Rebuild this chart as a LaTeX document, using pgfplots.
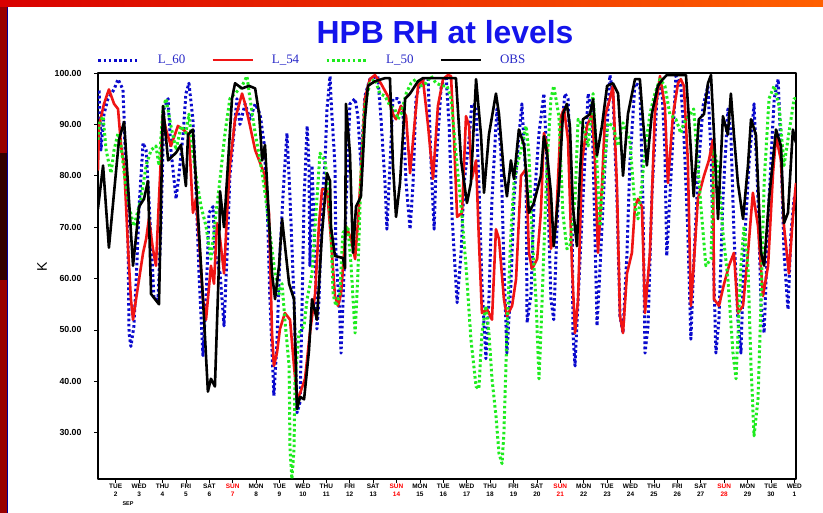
\documentclass[border=0pt]{standalone}
\usepackage{pgfplots}
\pgfplotsset{compat=1.18}
\usepackage{fontspec}
\setmainfont{Liberation Sans}
\newfontfamily\serifleg{Liberation Serif}
\definecolor{l60}{RGB}{10,10,205}
\definecolor{l54}{RGB}{240,20,20}
\definecolor{l50}{RGB}{30,235,30}
\definecolor{ttl}{RGB}{20,20,235}
\definecolor{legtxt}{RGB}{40,40,200}
\definecolor{bgred}{RGB}{200,25,25}

\pgfplotstableread{
x y
1.24 95
1.29 96.8
1.37 85
1.50 92
1.67 95
1.93 96.8
2.10 98.8
2.31 96.8
2.36 91
2.53 66.3
2.57 49.4
2.65 46.8
2.78 50.8
2.87 59
3.00 74
3.17 86.4
3.30 85
3.42 75.5
3.64 56
3.81 56
3.94 70.8
4.06 93
4.24 95
4.36 85
4.58 75.5
4.71 80.5
4.88 88
5.00 96
5.13 98
5.30 91
5.43 77.4
5.56 61
5.73 45
5.86 56
5.99 72.8
6.16 74
6.24 65
6.46 61
6.63 50.8
6.76 65
6.88 80
7.05 88.3
7.18 95
7.31 90
7.53 94
7.74 91
7.96 94
8.17 92
8.34 86.4
8.47 75.5
8.59 56
8.76 37.2
8.89 47.5
9.02 65
9.19 79.4
9.32 88.3
9.45 75.5
9.62 56
9.75 33.9
9.88 36
9.97 56
10.05 75.5
10.18 89.7
10.26 82
10.30 62.5
10.39 82
10.52 65
10.60 50.2
10.69 56
10.82 75.5
10.94 82
11.03 93
11.16 99.4
11.20 95
11.37 82
11.41 65
11.58 52.7
11.63 45.5
11.71 54.7
11.84 73.5
12.01 94
12.23 95
12.35 91.6
12.48 82
12.65 95.5
12.86 98.8
13.20 99.4
13.33 91.6
13.51 78.6
13.59 69.6
13.72 82
13.85 95
14.06 95
14.28 92
14.41 78.6
14.58 69.6
14.71 78.6
14.83 95
15.05 98.8
15.35 98.8
15.48 82
15.61 69.6
15.69 82
15.91 97.5
16.12 99.4
16.25 89.7
16.38 71.6
16.59 55.3
16.76 65
16.89 78.6
17.10 87
17.22 94
17.40 93.6
17.52 78.6
17.65 59
17.82 44.4
17.95 56
18.08 75.5
18.29 93
18.46 85
18.59 62.5
18.72 45.5
18.89 59
19.02 75.5
19.23 87.7
19.36 94
19.54 78.6
19.58 51.4
19.75 57
19.87 74
20.09 88.3
20.30 96
20.43 82
20.60 56
20.72 52
20.85 68.9
21.03 88.3
21.20 96
21.33 95
21.50 75.5
21.54 49.4
21.63 43
21.76 56
21.97 75.5
22.19 96
22.36 91.6
22.48 69
22.57 50.8
22.70 62.5
22.91 82
23.12 99.6
23.25 96
23.42 75.5
23.55 52.7
23.68 49.4
23.85 65
23.97 82
24.19 98
24.40 97.5
24.53 75.5
24.62 45.5
24.75 50.8
24.91 75.5
25.13 95
25.34 97.5
25.47 85
25.55 64.4
25.68 75.5
25.94 99.4
26.15 97.5
26.28 88.3
26.45 69
26.58 48.2
26.70 62.5
26.88 80
27.10 93.6
27.31 97.5
27.44 84.4
27.57 59
27.65 45.5
27.78 52
27.95 75.5
28.16 93
28.29 88.3
28.42 69
28.59 52
28.72 45.5
28.85 65
29.06 82
29.28 94
29.45 75.5
29.58 54.7
29.71 49.4
29.92 75.5
30.14 95
30.31 98.8
30.43 85
30.56 65
30.73 54
30.86 69
30.99 75.5
31.07 76.7
}\tabLsixty

\pgfplotstableread{
x y
1.24 81
1.29 89.7
1.50 94
1.71 96.8
1.93 94
2.10 93
2.23 85.8
2.36 82
2.53 65.8
2.65 56
2.74 52
2.87 56
3.17 65
3.30 67.7
3.42 71.6
3.59 65.8
3.72 62.5
3.85 75.5
4.02 92
4.15 89
4.36 85.8
4.66 89.7
4.88 89
5.13 88
5.30 72.8
5.43 75.5
5.56 67.7
5.73 56
5.86 52
6.07 62.5
6.20 59
6.33 70.8
6.46 67.7
6.63 61
6.76 72.8
6.88 82
7.10 91
7.40 96
7.53 94
7.74 89.7
7.96 85
8.34 80.5
8.55 72.8
8.68 49.4
8.76 43
8.89 45.5
9.02 50.2
9.23 53.3
9.45 52
9.62 43
9.75 36.6
9.88 37.7
10.09 40.5
10.30 49.4
10.52 57
10.69 70.8
10.82 77.4
11.03 77.4
11.20 67.7
11.37 56.6
11.50 54.7
11.63 57
11.84 70.2
12.06 67.7
12.23 63.8
12.35 70.8
12.48 80.5
12.65 95
12.86 98.8
13.08 99.6
13.33 98
13.63 95.5
13.85 92
13.98 91
14.19 93.6
14.41 91.6
14.58 80.5
14.71 87
14.92 97.5
15.13 98.8
15.35 89.7
15.56 79.4
15.77 93.6
15.99 98.8
16.20 99.6
16.33 99.4
16.46 87
16.59 72
16.80 72.8
16.97 91.6
17.10 89.7
17.22 79.4
17.40 83
17.52 67.7
17.65 53.3
17.87 54
18.08 52
18.25 69.6
18.38 67.7
18.59 56
18.72 52.7
18.94 54.7
19.11 59.9
19.32 80
19.54 81.3
19.66 65
19.79 61.9
20.01 63.8
20.17 72.8
20.30 88.3
20.43 85.8
20.60 65.8
20.81 70.2
21.03 91.6
21.16 93
21.33 87
21.50 62.5
21.63 49.4
21.76 56
21.93 83
22.14 89.7
22.36 92
22.48 83
22.61 65
22.78 78
22.91 91.6
23.12 95
23.25 97.5
23.42 78
23.55 52.7
23.68 49.4
23.85 61
24.06 65
24.19 74
24.32 75.5
24.49 74
24.62 53.3
24.83 65
25.04 92
25.26 99.4
25.47 93.6
25.60 78.6
25.81 91.6
26.03 98
26.15 98.8
26.28 97.5
26.45 83
26.58 54.7
26.70 62.5
26.88 75.5
27.14 80
27.35 83
27.52 87
27.57 56
27.78 54.7
28.00 59
28.21 62.5
28.42 65
28.59 53.3
28.81 54.7
29.02 65
29.23 76.7
29.45 70.2
29.66 56.6
29.88 62.5
30.09 80.5
30.22 87.7
30.43 83
30.56 70.2
30.77 61
30.94 72
31.07 78.6
}\tabLfiftyfour

\pgfplotstableread{
x y
1.24 87
1.29 90
1.46 91.6
1.59 85
1.80 80.5
1.93 85
2.10 88.3
2.23 85.8
2.36 80.5
2.57 74
2.78 70.2
3.08 75.5
3.30 82
3.51 85
3.72 85.8
3.85 82
4.02 93
4.15 95
4.36 89.7
4.58 85
4.79 89.7
5.00 88.3
5.13 92
5.30 84.4
5.43 80
5.65 74
5.86 70.2
6.07 63.8
6.24 70.8
6.46 79.4
6.67 88.3
6.88 95
7.10 96
7.40 97.5
7.61 99.4
7.74 95
7.96 88.3
8.17 83
8.38 76.7
8.59 68.9
8.81 61
8.98 57
9.11 59
9.23 52
9.41 43
9.45 26.8
9.53 21
9.62 26.8
9.66 39.7
9.83 49.4
10.05 50.8
10.18 56
10.39 61
10.60 75.5
10.73 84.4
10.94 83
11.11 76.7
11.20 68.9
11.29 57
11.41 54.7
11.58 57
11.71 68.9
11.92 70.2
12.06 62.5
12.23 49.4
12.35 61
12.48 80
12.65 93.6
12.86 98
13.08 98.8
13.29 96
13.51 95.5
13.72 93.6
13.93 93
14.06 91
14.19 92
14.41 96
14.62 98
14.83 98.8
15.05 97.5
15.26 98
15.48 99.4
15.69 98
15.99 97.5
16.16 97.5
16.33 95
16.59 82
16.80 72
16.97 62.5
17.18 48.2
17.40 39
17.52 38.5
17.65 49.4
17.82 54.7
17.95 49.4
18.08 40.5
18.25 33.3
18.38 26
18.51 24
18.59 30
18.72 49.4
18.89 68.9
19.02 78.6
19.15 82
19.32 85
19.54 89.7
19.66 84.4
19.79 68.9
19.96 56
20.09 40.5
20.17 49.4
20.30 65.8
20.43 82
20.60 95
20.72 97.5
20.94 91.6
21.11 72.8
21.28 65.8
21.41 66.3
21.63 75.5
21.76 91
21.97 89.7
22.19 85.8
22.40 96
22.57 82
22.70 70.2
22.82 78.6
23.04 90.3
23.25 89.7
23.47 85.8
23.68 90.3
23.97 87
24.19 74
24.32 71.6
24.49 78.6
24.62 85
24.83 92
25.04 96
25.26 98.8
25.47 97.5
25.68 92
25.94 91
26.15 88.3
26.28 90.3
26.49 91.6
26.70 93
26.88 82
27.01 74
27.22 62.5
27.44 63.8
27.57 85
27.74 82
27.95 69
28.16 60
28.38 45.5
28.51 40.5
28.72 62.5
28.85 70.2
29.02 62.5
29.15 43
29.28 29.4
29.45 36.6
29.58 56
29.71 78.6
29.92 95
30.14 97.5
30.35 93.6
30.56 82
30.77 88.3
30.99 95
31.07 95
}\tabLfifty

\pgfplotstableread{
x y
1.24 73.5
1.46 82
1.71 66
2.14 87
2.36 90.5
2.74 62.5
3.00 74
3.21 75.5
3.38 79
3.51 57
3.85 55
4.02 93.6
4.24 83
4.58 84.5
4.79 86
5.00 78
5.09 88
5.30 89
5.43 79
5.73 56
5.94 38
6.07 40.5
6.24 39
6.41 62.5
6.46 77
6.63 70
6.97 95
7.10 98
7.40 97
7.70 97.5
7.96 97
8.13 92
8.26 83
8.38 86
8.55 71.6
8.68 61
8.81 56
8.98 62.5
9.11 71.6
9.41 59
9.62 56
9.75 34.6
9.88 37
10.05 36.5
10.26 46
10.39 56
10.60 52
10.82 69
11.03 80.5
11.16 79
11.20 70
11.37 64.4
11.71 64
11.80 62
11.84 94
12.01 84.4
12.14 65
12.27 74
12.48 76
12.65 91
12.78 97.5
13.08 98.4
13.51 99
13.72 99
13.85 82
13.98 72
14.15 78.6
14.37 95
14.58 96
14.92 98.4
15.13 99
16.20 99
16.54 99
16.76 83
17.01 74.7
17.18 78.6
17.40 98.8
17.61 88
17.74 76.7
17.95 88
18.25 96
18.38 92
18.59 80.5
18.72 76
18.89 83
19.02 79.4
19.23 89
19.45 86
19.66 72.8
19.87 74.7
20.17 80
20.30 87.7
20.43 84.4
20.60 76.7
20.72 66.3
20.94 77.4
21.11 92
21.28 94
21.41 89.7
21.54 74
21.71 66.3
21.84 80.5
21.97 91
22.27 92
22.40 94.9
22.57 84
22.78 89.7
23.00 97.5
23.25 98
23.47 96
23.68 80
23.89 92
24.19 98.8
24.40 98.8
24.53 91
24.70 82
24.91 92
25.17 97.5
25.38 98.8
25.55 99.6
26.37 99.6
26.49 91.6
26.70 76
26.92 91
27.14 92
27.31 98
27.44 99.6
27.57 88
27.74 71.6
27.95 91.6
28.16 88
28.29 96
28.42 88
28.59 78.6
28.81 71.6
29.02 82
29.15 91
29.36 88
29.58 65
29.71 62.5
29.92 75.5
30.22 89
30.43 85.8
30.56 70.8
30.73 72.8
30.94 89
31.07 86.4
}\tabOBS

\newcommand{\sunlab}[1]{\textcolor{red}{SUN}\\\textcolor{red}{#1}}

\begin{document}
\begin{tikzpicture}
\begin{scope}[x=1bp,y=1bp]
\fill[bgred] (0,0) rectangle (823,513);
\shade[left color=red!85!black, right color=orange!75!red] (0,506) rectangle (823,513);
\fill[red!60!black] (0,0) rectangle (7,506);
\fill[black!80!red] (0,233) rectangle (7,360);
\fill[white] (7,0) rectangle (823,506);
\draw[blue!60!black, line width=0.8] (7.4,0) -- (7.4,506);
\node[anchor=base, font=\bfseries\fontsize{32}{36}\selectfont, text=ttl] at (445,469) {HPB RH at levels};
\node[font=\bfseries\fontsize{5.5}{6}\selectfont] at (128,9.5) {SEP};
\end{scope}

\begin{axis}[
  at={(98bp,34bp)}, anchor=south west,
  scale only axis, width=698bp, height=406bp,
  xmin=1.2436, xmax=31.073, ymin=21, ymax=100,
  axis line style={line width=1.1bp, black},
  tick align=outside, xtick pos=left, ytick pos=left,
  major tick length=4bp,
  tick style={line width=0.8bp, black},
  ytick={30,40,...,100},
  yticklabels={30.00,40.00,50.00,60.00,70.00,80.00,90.00,100.00},
  yticklabel style={font=\bfseries\fontsize{8.8}{10}\selectfont, xshift=-9bp},
  xtick={2,...,31},
  xticklabels={{TUE\\2},{WED\\3},{THU\\4},{FRI\\5},{SAT\\6},{\sunlab{7}},{MON\\8},{TUE\\9},{WED\\10},{THU\\11},{FRI\\12},{SAT\\13},{\sunlab{14}},{MON\\15},{TUE\\16},{WED\\17},{THU\\18},{FRI\\19},{SAT\\20},{\sunlab{21}},{MON\\22},{TUE\\23},{WED\\24},{THU\\25},{FRI\\26},{SAT\\27},{\sunlab{28}},{MON\\29},{TUE\\30},{WED\\1}},
  xticklabel style={font=\bfseries\fontsize{6.5}{7.8}\selectfont, align=center, inner sep=1bp},
  ylabel={K},
  ylabel style={at={(axis description cs:-0.080,0.522)}, anchor=center, font=\fontsize{14}{16}\selectfont},
  legend columns=4,
  legend style={at={(axis description cs:-0.0015,1.032)}, anchor=west, draw=none, fill=none,
    inner sep=0pt, outer sep=0pt,
    font=\serifleg\fontsize{13}{14}\selectfont, text=legtxt,
    /tikz/every odd column/.append style={column sep=16bp},
    /tikz/every even column/.append style={column sep=24bp},
    cells={anchor=west}},
  legend image code/.code={\draw[#1] (0bp,0bp) -- (40bp,0bp);},
  line join=round,
]
\addplot[l60, line width=3bp, dash pattern=on 2.6bp off 2.6bp, no markers] table[x=x,y=y] {\tabLsixty};
\addlegendentry{L\_60}
\addplot[l54, line width=2.6bp, no markers] table[x=x,y=y] {\tabLfiftyfour};
\addlegendentry{L\_54}
\addplot[l50, line width=3bp, dash pattern=on 2.6bp off 2.6bp, no markers] table[x=x,y=y] {\tabLfifty};
\addlegendentry{L\_50}
\addplot[black, line width=2.6bp, no markers] table[x=x,y=y] {\tabOBS};
\addlegendentry{OBS}
\end{axis}
\pgfresetboundingbox
\useasboundingbox (0,0) rectangle (823bp,513bp);
\end{tikzpicture}
\end{document}
